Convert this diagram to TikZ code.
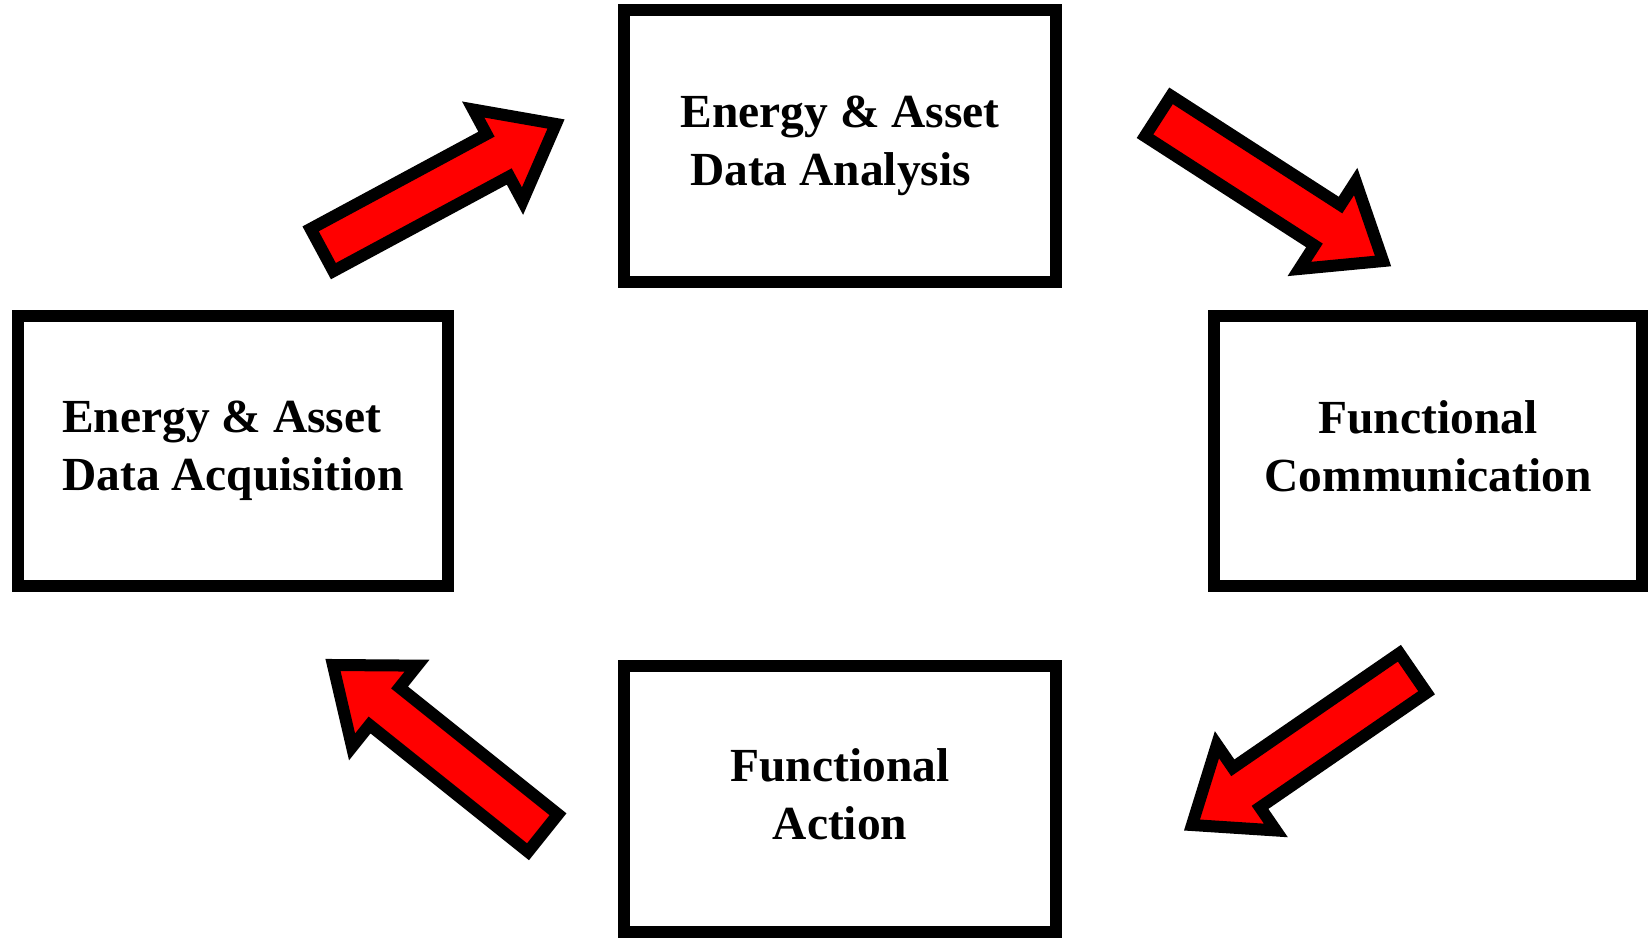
\documentclass[tikz,border=0pt]{standalone}
\usepackage{fontspec}
\setmainfont{Liberation Serif}
\usepackage{tikz}
\usetikzlibrary{calc}

% block arrow from tail coordinate #1 to tip coordinate #2
\newcommand{\bigarrow}[2]{%
  \coordinate (#1-n) at ($(#2)!0.66cm!(#1)$);
  \draw[blockarrow] ($(#1)!0.24cm!90:(#2)$) -- ($(#1-n)!0.24cm!90:(#2)$)
    -- ($(#1-n)!0.52cm!90:(#2)$) -- (#2) -- ($(#1-n)!0.52cm!-90:(#2)$)
    -- ($(#1-n)!0.24cm!-90:(#2)$) -- ($(#1)!0.24cm!-90:(#2)$) -- cycle;
}

\begin{document}
\begin{tikzpicture}[x=0.01cm,y=-0.01cm,
	box/.style={draw=black,line width=0.12cm,minimum width=4.32cm,minimum height=2.72cm,
		align=center,text depth=2.9pt,font=\bfseries\fontsize{13.5}{16.5}\selectfont},
	blockarrow/.style={draw=black,fill=red,line width=0.12cm,line join=miter}]
\useasboundingbox (0,0) rectangle (1648,939);

\node[box] (ana) at (840,146) {Energy \& Asset\\Data Analysis\hspace*{0.4em}};
\node[box,minimum width=4.30cm,minimum height=2.70cm,align=left] (acq) at (233,451) {Energy \& Asset\\Data Acquisition};
\node[box,minimum width=4.28cm,minimum height=2.70cm] (com) at (1428,451) {Functional\\Communication};
\node[box,minimum height=2.66cm] (act) at (840,799) {Functional\\Action};

% arrow ends
\coordinate (acq-out) at (322,250);
\coordinate (ana-in) at (556,124);
\coordinate (ana-out) at (1158,116);
\coordinate (com-in) at (1383,261);
\coordinate (com-out) at (1413,673);
\coordinate (act-in) at (1192,825);
\coordinate (act-out) at (543,833);
\coordinate (acq-in) at (333,665);

\bigarrow{acq-out}{ana-in}
\bigarrow{ana-out}{com-in}
\bigarrow{com-out}{act-in}
\bigarrow{act-out}{acq-in}

\end{tikzpicture}
\end{document}
